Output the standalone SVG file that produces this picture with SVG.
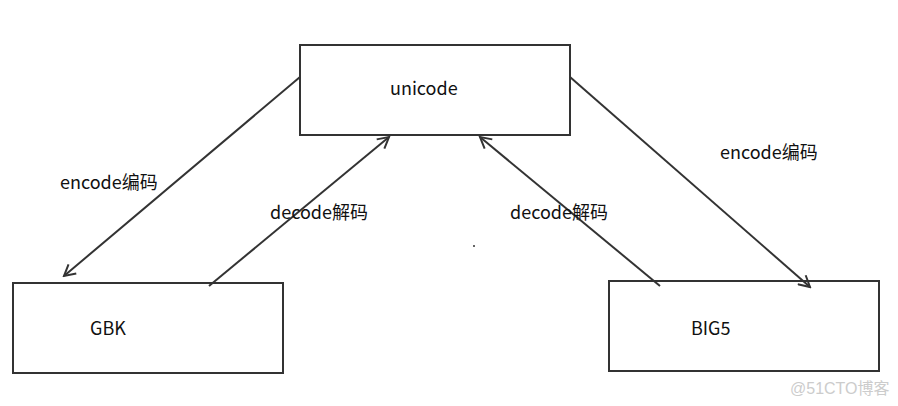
<svg xmlns="http://www.w3.org/2000/svg" width="898" height="406" viewBox="0 0 898 406">
<defs>
<style>
.box{fill:#fff;stroke:#333;stroke-width:2}
.ln{stroke:#333;stroke-width:2;fill:none}
.t{font-family:"Noto Sans CJK SC","Noto Sans",sans-serif;font-size:18px;fill:#111}
.wm{font-family:"Liberation Sans","Noto Sans CJK SC",sans-serif;font-size:16px;fill:#ccc}
</style>
<marker id="ah" viewBox="0 0 14 14" refX="12" refY="7" markerWidth="14" markerHeight="14" markerUnits="userSpaceOnUse" orient="auto">
<path d="M1,1 L12,7 L1,13" fill="none" stroke="#333" stroke-width="2"/>
</marker>
</defs>
<rect width="898" height="406" fill="#fff"/>
<g id="unicode"><rect class="box" x="300" y="45" width="270" height="90"/><text class="t" x="390" y="95">unicode</text></g>
<g id="gbk"><rect class="box" x="13" y="283" width="270" height="90"/><text class="t" x="90" y="335">GBK</text></g>
<g id="big5"><rect class="box" x="609" y="281" width="270" height="90"/><text class="t" x="691" y="335">BIG5</text></g>
<g id="connectors">
<line class="ln" x1="300" y1="77" x2="64" y2="276" marker-end="url(#ah)"/>
<line class="ln" x1="209" y1="286" x2="389" y2="137" marker-end="url(#ah)"/>
<line class="ln" x1="660" y1="286" x2="480" y2="137" marker-end="url(#ah)"/>
<line class="ln" x1="570" y1="77" x2="810" y2="287" marker-end="url(#ah)"/>
<text class="t" x="60" y="189">encode编码</text>
<text class="t" x="270" y="219">decode解码</text>
<text class="t" x="510" y="219">decode解码</text>
<text class="t" x="720" y="159">encode编码</text>
</g>
<circle cx="474" cy="246" r="1" fill="#333"/>
<text class="wm" x="790" y="394">@51CTO博客</text>
</svg>
